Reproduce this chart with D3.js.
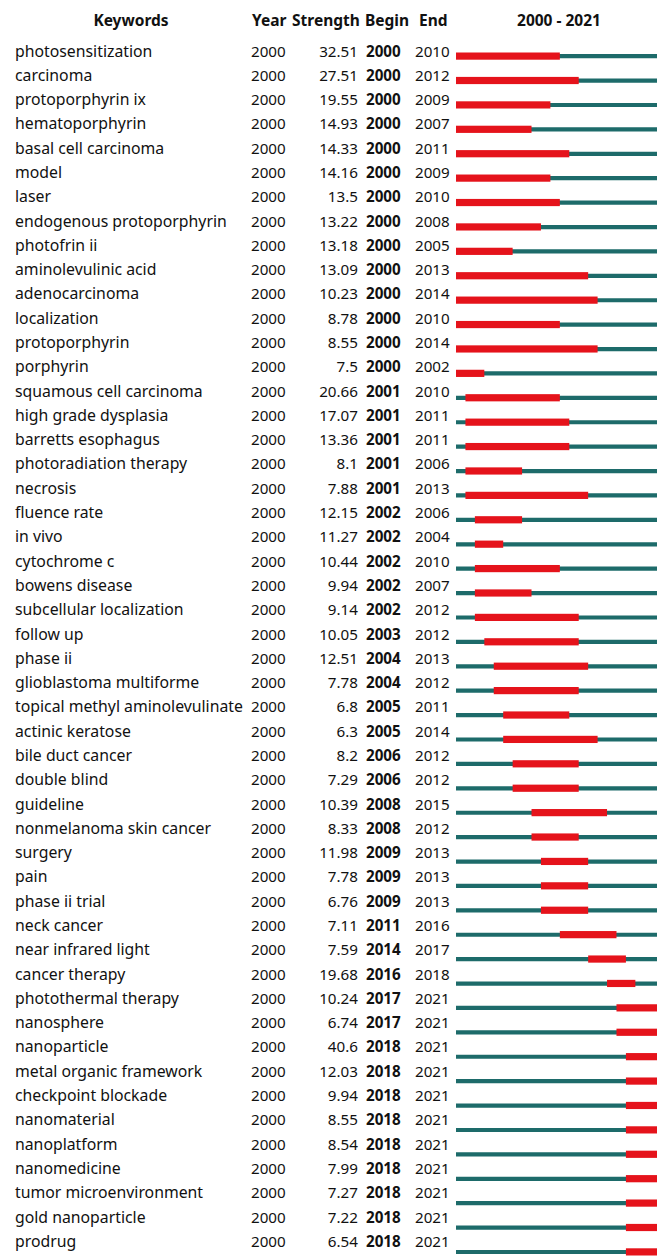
<!DOCTYPE html>
<html><head><meta charset="utf-8">
<script src="https://cdn.jsdelivr.net/npm/d3@7"></script>
<style>
html,body{margin:0;padding:0;background:#fff;}
svg{display:block;}
text{font-family:"Noto Sans",sans-serif;fill:#111;}
</style></head>
<body>
<script>
const keywords = ["photosensitization","carcinoma","protoporphyrin ix","hematoporphyrin","basal cell carcinoma","model","laser","endogenous protoporphyrin","photofrin ii","aminolevulinic acid","adenocarcinoma","localization","protoporphyrin","porphyrin","squamous cell carcinoma","high grade dysplasia","barretts esophagus","photoradiation therapy","necrosis","fluence rate","in vivo","cytochrome c","bowens disease","subcellular localization","follow up","phase ii","glioblastoma multiforme","topical methyl aminolevulinate","actinic keratose","bile duct cancer","double blind","guideline","nonmelanoma skin cancer","surgery","pain","phase ii trial","neck cancer","near infrared light","cancer therapy","photothermal therapy","nanosphere","nanoparticle","metal organic framework","checkpoint blockade","nanomaterial","nanoplatform","nanomedicine","tumor microenvironment","gold nanoparticle","prodrug"];
const years = Array(50).fill(2000);
const strengths = ["32.51","27.51","19.55","14.93","14.33","14.16","13.5","13.22","13.18","13.09","10.23","8.78","8.55","7.5","20.66","17.07","13.36","8.1","7.88","12.15","11.27","10.44","9.94","9.14","10.05","12.51","7.78","6.8","6.3","8.2","7.29","10.39","8.33","11.98","7.78","6.76","7.11","7.59","19.68","10.24","6.74","40.6","12.03","9.94","8.55","8.54","7.99","7.27","7.22","6.54"];
const begins = [2000,2000,2000,2000,2000,2000,2000,2000,2000,2000,2000,2000,2000,2000,2001,2001,2001,2001,2001,2002,2002,2002,2002,2002,2003,2004,2004,2005,2005,2006,2006,2008,2008,2009,2009,2009,2011,2014,2016,2017,2017,2018,2018,2018,2018,2018,2018,2018,2018,2018];
const ends = [2010,2012,2009,2007,2011,2009,2010,2008,2005,2013,2014,2010,2014,2002,2010,2011,2011,2006,2013,2006,2004,2010,2007,2012,2012,2013,2012,2011,2014,2012,2012,2015,2012,2013,2013,2013,2016,2017,2018,2021,2021,2021,2021,2021,2021,2021,2021,2021,2021,2021];
const headers = ["Keywords","Year","Strength","Begin","End","2000 - 2021"];
const yearStart = 2000, yearEnd = 2021;

const W = 657, H = 1257;
const rows = keywords.map((k,i)=>({k, year:years[i], s:strengths[i], b:begins[i], e:ends[i], i}));

const svg = d3.select("body").append("svg").attr("width",W).attr("height",H);

// scales
const x = d3.scaleLinear().domain([yearStart, yearEnd+1]).range([456, 456 + 22*9.44]);
const yText = d3.scaleLinear().domain([0, 49]).range([56.5, 1246.8]);
const yBar = d3.scaleLinear().domain([0, 49]).range([56.2, 1252]);

// header
const hdr = svg.append("g").attr("font-weight","bold").attr("font-size",15.5);
const hdrPos = [{x:131,a:"middle"},{x:252,a:"start"},{x:292,a:"start"},{x:365,a:"start"},{x:419,a:"start"},{x:559,a:"middle"}];
hdr.selectAll("text").data(headers).join("text")
  .attr("x",(d,i)=>hdrPos[i].x).attr("y",25.5)
  .attr("text-anchor",(d,i)=>hdrPos[i].a)
  .style("font-weight","bold")
  .text(d=>d);

// bars
const bars = svg.append("g");
bars.selectAll("line.base").data(rows).join("line").attr("class","base")
  .attr("x1",x(yearStart)).attr("x2",x(yearEnd+1))
  .attr("y1",d=>yBar(d.i)).attr("y2",d=>yBar(d.i))
  .attr("stroke","#1d6b6a").attr("stroke-width",4.2);
bars.selectAll("rect.burst").data(rows).join("rect").attr("class","burst")
  .attr("x",d=>x(d.b)).attr("width",d=>x(d.e+1)-x(d.b))
  .attr("y",d=>yBar(d.i)-3.7).attr("height",7.2)
  .attr("fill","#e5131b");

// table text
const tg = svg.append("g").attr("font-size",15.2);
const rowG = tg.selectAll("g").data(rows).join("g").attr("transform",d=>`translate(0,${yText(d.i)})`);
rowG.append("text").attr("x",15).attr("font-size",15.8).text(d=>d.k);
rowG.append("text").attr("x",251).text(d=>d.year);
rowG.append("text").attr("x",358).attr("text-anchor","end").text(d=>d.s);
rowG.append("text").attr("x",366).style("font-weight","bold").text(d=>d.b);
rowG.append("text").attr("x",415).text(d=>d.e);
</script>
</body></html>
